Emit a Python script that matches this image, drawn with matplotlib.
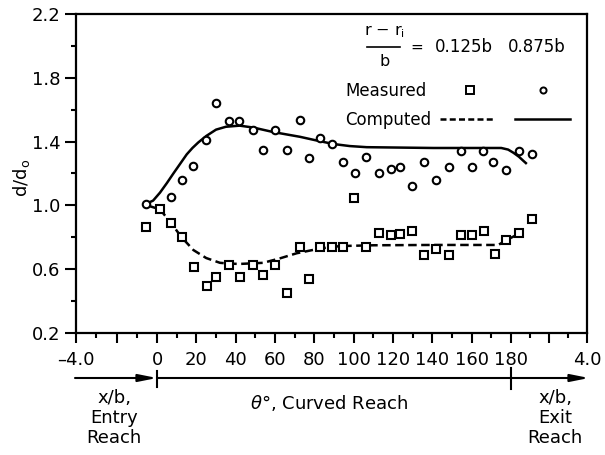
import matplotlib
matplotlib.use("Agg")
import matplotlib.pyplot as plt
from matplotlib.lines import Line2D

plt.rcParams['font.family'] = ['DejaVu Sans']

# ---- data (x = position along channel: x/b entry scaled, theta deg, x/b exit scaled)
circ_x = [-5.6, 7.1, 12.9, 18.5, 24.9, 29.9, 36.4, 41.8, 48.6, 54.1, 60.0, 65.9, 72.7,
          77.4, 82.9, 88.8, 94.7, 100.7, 106.3, 113.1, 118.9, 123.5, 129.5, 135.7,
          141.8, 148.4, 154.4, 160.3, 165.9, 171.0, 177.4, 184.2, 190.5]
circ_y = [1.01, 1.05, 1.16, 1.25, 1.41, 1.64, 1.53, 1.53, 1.47, 1.35, 1.47, 1.35, 1.535,
          1.30, 1.42, 1.385, 1.27, 1.20, 1.305, 1.20, 1.23, 1.24, 1.12, 1.27,
          1.16, 1.24, 1.34, 1.24, 1.34, 1.27, 1.22, 1.34, 1.32]

sq_x = [-5.6, 1.5, 7.1, 12.5, 18.8, 25.3, 29.9, 36.4, 42.2, 48.6, 54.1, 60.0, 65.9,
        72.7, 77.4, 82.9, 88.8, 94.7, 100.2, 106.3, 113.1, 118.9, 123.5, 129.5,
        135.7, 141.8, 148.4, 154.4, 160.3, 166.2, 171.8, 177.4, 184.2, 190.5]
sq_y = [0.866, 0.98, 0.89, 0.80, 0.615, 0.495, 0.553, 0.626, 0.553, 0.626, 0.564, 0.626, 0.449,
        0.741, 0.537, 0.741, 0.741, 0.741, 1.045, 0.741, 0.825, 0.815, 0.82, 0.84,
        0.69, 0.725, 0.69, 0.815, 0.815, 0.84, 0.695, 0.78, 0.825, 0.913]

solid_x = [-5.6, -2, 1.5, 5, 8.3, 11.7, 15.1, 18, 21, 25, 30, 35, 42, 49, 59, 72.7, 80,
           89.6, 98, 106.6, 140.5, 175, 178.5, 181.2, 184, 186.2, 188]
solid_y = [1.01, 1.03, 1.08, 1.14, 1.20, 1.26, 1.32, 1.36, 1.395, 1.435, 1.475, 1.493, 1.50,
           1.488, 1.46, 1.43, 1.41, 1.385, 1.372, 1.365, 1.36, 1.36, 1.35, 1.33, 1.305,
           1.28, 1.26]

dash_x = [-5.0, 1.5, 7.1, 12.5, 18.5, 25, 32, 37, 42, 54, 62.5, 71, 83, 93, 110, 140,
          173.5, 177.7, 184.5]
dash_y = [1.0, 0.975, 0.89, 0.80, 0.72, 0.67, 0.64, 0.635, 0.633, 0.64, 0.668, 0.70,
          0.73, 0.745, 0.75, 0.752, 0.752, 0.783, 0.825]

xmaj = [-41.2, -20.6, 0, 20, 40, 60, 80, 100, 120, 140, 160, 180, 199.3, 218.6]
xmaj_labels = ['\u20134.0', '', '0', '20', '40', '60', '80', '100', '120', '140',
               '160', '180', '', '4.0']
xmin = [-30.9, -10.3, 10, 30, 50, 70, 90, 110, 130, 150, 170, 189.7, 209.0]
ymaj = [0.2, 0.6, 1.0, 1.4, 1.8, 2.2]
ymaj_labels = ['0.2', '0.6', '1.0', '1.4', '1.8', '2.2']
ymin = [0.4, 0.8, 1.2, 1.6, 2.0]

W, H = 605, 455
fig = plt.figure(figsize=(W / 100, H / 100), dpi=100)
ax = fig.add_axes([76 / W, 1 - 333 / H, 511 / W, 319 / H])

ax.plot(solid_x, solid_y, color='black', lw=1.8, solid_capstyle='butt')
ax.plot(dash_x, dash_y, color='black', lw=1.8, linestyle=(0, (3.4, 1.8)))
ax.plot(circ_x, circ_y, linestyle='none', marker='o', ms=5.4, mfc='white',
        mec='black', mew=1.5)
ax.plot(sq_x, sq_y, linestyle='none', marker='s', ms=5.8, mfc='white',
        mec='black', mew=1.5)

ax.set_xlim(-41.2, 218.6)
ax.set_ylim(0.2, 2.2)
ax.set_xticks(xmaj)
ax.set_xticklabels(xmaj_labels)
ax.set_xticks(xmin, minor=True)
ax.set_yticks(ymaj)
ax.set_yticklabels(ymaj_labels)
ax.set_yticks(ymin, minor=True)
ax.tick_params(axis='x', which='major', direction='out', length=7, width=1.5,
               labelsize=13, pad=6)
ax.tick_params(axis='x', which='minor', direction='out', length=3.5, width=1.5)
ax.tick_params(axis='y', which='major', direction='out', length=8, width=1.5,
               labelsize=13, pad=3)
ax.tick_params(axis='y', which='minor', direction='out', length=3.5, width=1.5)
for s in ax.spines.values():
    s.set_linewidth(1.6)

def fx(px):
    return px / W

def fy(py):
    return 1 - py / H

# y label
fig.text(fx(22), fy(178), 'd/d$_\\mathregular{o}$', rotation=90, ha='center',
         va='center', fontsize=13)

# legend block
fig.text(fx(384), fy(32), 'r \u2212 r$_\\mathregular{i}$', ha='center', va='center',
         fontsize=11.5)
fig.add_artist(Line2D([fx(367), fx(400)], [fy(47), fy(47)], color='black', lw=1.2))
fig.text(fx(385), fy(62), 'b', ha='center', va='center', fontsize=11.5)
fig.text(fx(417), fy(47), '=', ha='center', va='center', fontsize=11)
fig.text(fx(464), fy(47), '0.125b', ha='center', va='center', fontsize=12)
fig.text(fx(537), fy(47), '0.875b', ha='center', va='center', fontsize=12)
fig.text(fx(345), fy(91), 'Measured', ha='left', va='center', fontsize=12)
fig.text(fx(345), fy(120), 'Computed', ha='left', va='center', fontsize=12)
fig.add_artist(Line2D([fx(470)], [fy(90)], marker='s', ms=5.2, mfc='white',
                      mec='black', mew=1.4, linestyle='none'))
fig.add_artist(Line2D([fx(543)], [fy(90)], marker='o', ms=4.4, mfc='white',
                      mec='black', mew=1.4, linestyle='none'))
fig.add_artist(Line2D([fx(440), fx(495)], [fy(119), fy(119)], color='black', lw=1.8,
                      linestyle=(0, (2.4, 1.3))))
fig.add_artist(Line2D([fx(515), fx(570)], [fy(119), fy(119)], color='black', lw=1.8))

# lower arrow axis
ya = fy(378)
arrow_kw = dict(arrowstyle='-|>,head_length=1.1,head_width=0.22', color='black', lw=1.5,
                shrinkA=0, shrinkB=0)
ax.annotate('', xy=(fx(157), ya), xytext=(fx(75), ya), xycoords='figure fraction',
            textcoords='figure fraction', arrowprops=arrow_kw)
ax.annotate('', xy=(fx(589), ya), xytext=(fx(157), ya), xycoords='figure fraction',
            textcoords='figure fraction', arrowprops=arrow_kw)
fig.add_artist(Line2D([fx(157), fx(157)], [fy(371), fy(387)], color='black', lw=1.5))
fig.add_artist(Line2D([fx(511), fx(511)], [fy(368), fy(389)], color='black', lw=1.5))

fig.text(fx(114), fy(418), 'x/b,\nEntry\nReach', ha='center', va='center',
         fontsize=13, linespacing=1.15)
fig.text(fx(329), fy(403), '$\\theta$\u00b0, Curved Reach', ha='center', va='center',
         fontsize=13)
fig.text(fx(555), fy(418), 'x/b,\nExit\nReach', ha='center', va='center',
         fontsize=13, linespacing=1.15)

fig.savefig('out.png', dpi=100)
